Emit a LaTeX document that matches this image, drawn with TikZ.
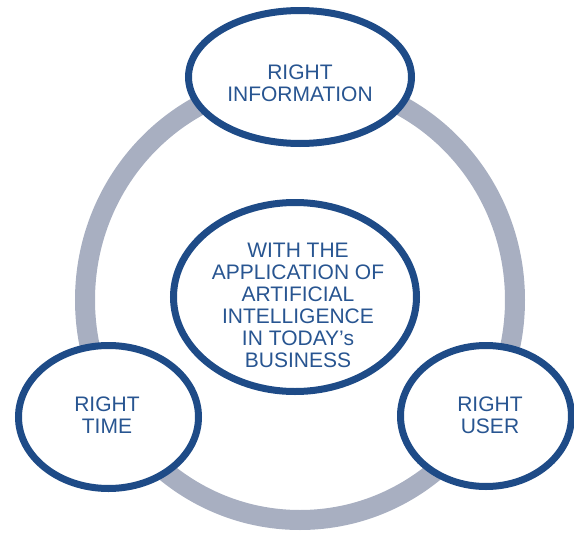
\documentclass[tikz,border=0pt]{standalone}
\usepackage{fontspec}
\setmainfont{Liberation Sans}
\usetikzlibrary{shapes.geometric}
\definecolor{ringgray}{RGB}{168,175,193}
\definecolor{bubbleblue}{RGB}{30,75,135}
\definecolor{labelblue}{RGB}{40,85,145}
\tikzset{
  bubble/.style={ellipse, draw=bubbleblue, line width=7pt, fill=white, inner sep=0pt},
  bubbletext/.style={text=labelblue, align=center, inner sep=0pt,
    font=\fontsize{21pt}{22pt}\selectfont},
}
\begin{document}
\begin{tikzpicture}[x=1pt,y=-1pt]
  \useasboundingbox (0,0) rectangle (574,536);
  % grey cycle behind the bubbles
  \draw[ringgray, line width=20pt] (300,300) ellipse [x radius=215pt, y radius=220pt];
  % bubbles
  \node[bubble, minimum width=223pt, minimum height=133pt] (info) at (300,77) {};
  \node[bubble, minimum width=243pt, minimum height=189pt] (core) at (295,297) {};
  \node[bubble, minimum width=180pt, minimum height=143pt] (time) at (108.5,417) {};
  \node[bubble, minimum width=171pt, minimum height=141pt] (user) at (486,416) {};
  % labels
  \node[bubbletext] (infotext) at (300,83.5) {RIGHT\\INFORMATION};
  \node[bubbletext] (coretext) at (298,305.5) {WITH THE\\APPLICATION OF\\ARTIFICIAL\\INTELLIGENCE\\IN TODAY’s\\BUSINESS};
  \node[bubbletext] (timetext) at (107,415.5) {RIGHT\\TIME};
  \node[bubbletext] (usertext) at (490,415.5) {RIGHT\\USER};
\end{tikzpicture}
\end{document}
